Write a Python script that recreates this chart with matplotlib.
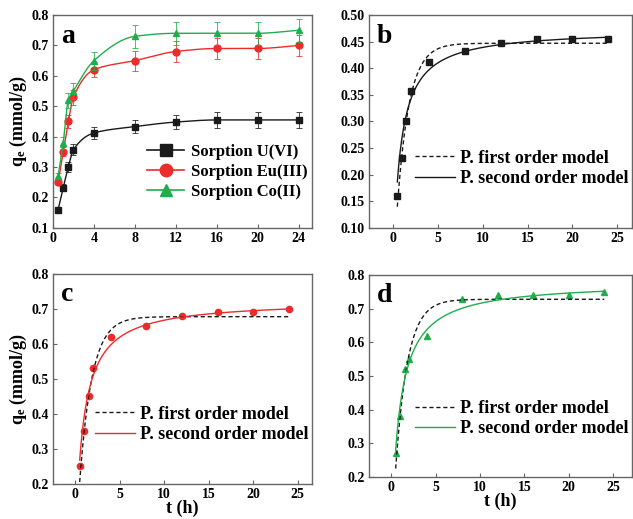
import numpy as np
import matplotlib
matplotlib.use('Agg')
import matplotlib.pyplot as plt

plt.rcParams['font.family'] = 'Liberation Serif'
plt.rcParams['font.weight'] = 'bold'
plt.rcParams['mathtext.fontset'] = 'custom'
plt.rcParams['mathtext.rm'] = 'Liberation Serif:bold'
plt.rcParams['mathtext.bf'] = 'Liberation Serif:bold'
plt.rcParams['mathtext.it'] = 'Liberation Serif:bold'

# sorption kinetics data
t = [0.5, 1, 1.5, 2, 4, 8, 12, 16, 20, 24]
q_u = [0.16, 0.232, 0.30, 0.357, 0.412, 0.433, 0.448, 0.455, 0.455, 0.455]
q_eu = [0.25, 0.35, 0.45, 0.53, 0.62, 0.65, 0.68, 0.69, 0.69, 0.70]
q_co_a = [0.27, 0.38, 0.52, 0.55, 0.65, 0.73, 0.74, 0.74, 0.74, 0.75]
q_co_d = [0.27, 0.38, 0.52, 0.55, 0.62, 0.73, 0.74, 0.74, 0.74, 0.75]
err_u = [0.01, 0.012, 0.015, 0.018, 0.02, 0.022, 0.024, 0.025, 0.025, 0.025]
err_eu = [0.01, 0.015, 0.02, 0.025, 0.025, 0.033, 0.035, 0.035, 0.035, 0.035]
err_co = [0.01, 0.02, 0.025, 0.025, 0.03, 0.038, 0.038, 0.038, 0.038, 0.038]

# fitted model parameters (qe, k)
pfo_u, pso_u = (0.447, 0.75), (0.473, 1.3 / 0.473)
pfo_eu, pso_eu = (0.678, 0.72), (0.725, 1.17 / 0.725)
pfo_co, pso_co = (0.728, 0.74), (0.78, 1.117 / 0.78)

BLACK = '#1a1a1a'
RED = '#ee2b2b'
GREEN = '#1fae4c'
SPINE = '#666666'


def pfo(tt, qe, k):
    return qe * (1 - np.exp(-k * tt))


def pso(tt, qe, k):
    return k * qe ** 2 * tt / (1 + k * qe * tt)


def smooth(x, y, n=300):
    # monotone cubic (Fritsch-Carlson) line through the points
    x = np.asarray(x, float)
    y = np.asarray(y, float)
    h = np.diff(x)
    d = np.diff(y) / h
    m = np.zeros_like(y)
    m[0], m[-1] = d[0], d[-1]
    for k in range(1, len(x) - 1):
        if d[k - 1] * d[k] <= 0:
            m[k] = 0
        else:
            w1 = 2 * h[k] + h[k - 1]
            w2 = h[k] + 2 * h[k - 1]
            m[k] = (w1 + w2) / (w1 / d[k - 1] + w2 / d[k])
    xs = np.linspace(x[0], x[-1], n)
    i = np.clip(np.searchsorted(x, xs) - 1, 0, len(x) - 2)
    s = (xs - x[i]) / h[i]
    h00 = 2 * s**3 - 3 * s**2 + 1
    h10 = s**3 - 2 * s**2 + s
    h01 = -2 * s**3 + 3 * s**2
    h11 = s**3 - s**2
    ys = h00 * y[i] + h10 * h[i] * m[i] + h01 * y[i + 1] + h11 * h[i] * m[i + 1]
    return xs, ys


def style(ax):
    for sp in ax.spines.values():
        sp.set_color(SPINE)
        sp.set_linewidth(1.0)
    ax.tick_params(direction='in', length=3, width=0.8, color=SPINE,
                   labelsize=10, top=False, right=False, pad=3)
    for lab in ax.get_xticklabels() + ax.get_yticklabels():
        lab.set_fontweight('bold')


fig = plt.figure(figsize=(6.33, 5.19), dpi=100)
ax_a = fig.add_axes([0.0837, 0.561, 0.409, 0.410])
ax_b = fig.add_axes([0.583, 0.561, 0.415, 0.410])
ax_c = fig.add_axes([0.0837, 0.068, 0.409, 0.404])
ax_d = fig.add_axes([0.583, 0.081, 0.415, 0.389])

# panel a
series = [(q_u, err_u, BLACK, 's', 'Sorption U(VI)'),
          (q_eu, err_eu, RED, 'o', 'Sorption Eu(III)'),
          (q_co_a, err_co, GREEN, '^', 'Sorption Co(II)')]
handles = []
for q, e, c, mk, lab in series:
    xs, ys = smooth(t, q)
    ax_a.plot(xs, ys, color=c, lw=1.0)
    ax_a.errorbar(t, q, yerr=e, fmt='none', ecolor=c, elinewidth=0.7,
                  capsize=2, capthick=0.7, alpha=0.8)
    ax_a.plot(t, q, mk, color=c, ms=5, ls='none')
    h, = ax_a.plot([], [], color=c, marker=mk, ms=9, lw=1.2, label=lab)
    handles.append(h)
ax_a.legend(handles=handles, loc='lower right', bbox_to_anchor=(1.04, 0.06),
            frameon=False, prop={'size': 12, 'weight': 'bold'},
            handlelength=2.2, handletextpad=0.4, labelspacing=0.25)
ax_a.set_xlim(0, 25.3)
ax_a.set_ylim(0.1, 0.8)
ax_a.set_xticks([0, 4, 8, 12, 16, 20, 24])
ax_a.set_yticks(np.arange(0.1, 0.81, 0.1))
ax_a.set_ylabel(r'$\mathbf{q_e}$ (mmol/g)', fontsize=13, fontweight='bold', labelpad=2)
ax_a.text(0.03, 0.96, 'a', transform=ax_a.transAxes, fontsize=20,
          fontweight='bold', va='top')
style(ax_a)

# panels b, c, d
tt = np.linspace(0.5, 24, 300)
fits = [(ax_b, q_u, pfo_u, pso_u, BLACK, 's', 'b'),
        (ax_c, q_eu, pfo_eu, pso_eu, RED, 'o', 'c'),
        (ax_d, q_co_d, pfo_co, pso_co, GREEN, '^', 'd')]
for ax, q, p1, p2, c, mk, letter in fits:
    ax.plot(t, q, mk, color=c, ms=4.5, ls='none')
    ax.plot(tt, pfo(tt, *p1), color=BLACK, ls=(0, (3, 2)), lw=1.0,
            label='P. first order model')
    ax.plot(tt, pso(tt, *p2), color=c, lw=1.0, label='P. second order model')
    ax.legend(loc='lower right', bbox_to_anchor=(1.05, 0.115), frameon=False,
              prop={'size': 13, 'weight': 'bold'}, handlelength=2.2,
              handletextpad=0.3, labelspacing=0.2)
    ax.set_xticks([0, 5, 10, 15, 20, 25])
    ax.text(0.03, 0.96, letter, transform=ax.transAxes, fontsize=20,
            fontweight='bold', va='top')

ax_b.set_xlim(-2.65, 26.6)
ax_b.set_ylim(0.10, 0.50)
ax_b.set_yticks(np.arange(0.10, 0.501, 0.05))
ax_b.yaxis.set_major_formatter(matplotlib.ticker.FormatStrFormatter('%.2f'))

ax_c.set_xlim(-2.5, 26.6)
ax_c.set_ylim(0.2, 0.8)
ax_c.set_yticks(np.arange(0.2, 0.81, 0.1))
ax_c.set_ylabel(r'$\mathbf{q_e}$ (mmol/g)', fontsize=13, fontweight='bold', labelpad=2)
ax_c.set_xlabel('t (h)', fontsize=13, fontweight='bold', labelpad=-1)

ax_d.set_xlim(-2.5, 27.1)
ax_d.set_ylim(0.2, 0.8)
ax_d.set_yticks(np.arange(0.2, 0.81, 0.1))
ax_d.set_xlabel('t (h)', fontsize=13, fontweight='bold', labelpad=-1)

for ax in (ax_b, ax_c, ax_d):
    style(ax)

fig.savefig('out.png', dpi=100)
